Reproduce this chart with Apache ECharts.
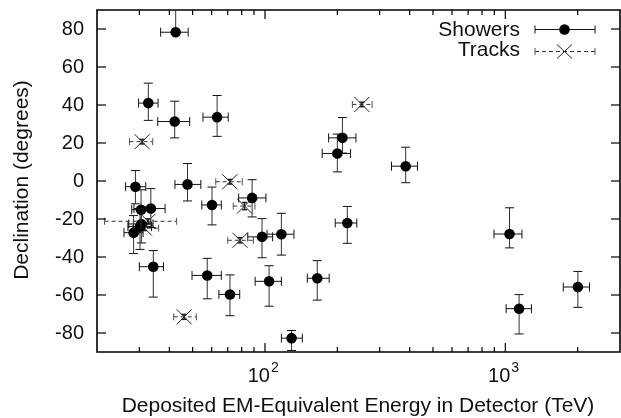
<!DOCTYPE html>
<html>
<head>
<meta charset="utf-8">
<script src="https://cdn.jsdelivr.net/npm/echarts@6/dist/echarts.min.js"></script>
<style>
html,body{margin:0;padding:0;background:#fff;}
#chart{width:621px;height:418px;}
</style>
</head>
<body>
<div id="chart"></div>
<script>
// ---- axis ranges & ticks ----
const xMin = 20, xMax = 3000;
const yMin = -90, yMax = 90;
const xMajorTicks = [100, 1000];
const xMajorLabels = ['10', '10'];
const xMajorExp = ['2', '3'];
const xMinorTicks = [30, 40, 50, 60, 70, 80, 90, 200, 300, 400, 500, 600, 700, 800, 900, 2000];
const yTicks = [-80, -60, -40, -20, 0, 20, 40, 60, 80];

// ---- Showers: deposited energy (TeV) with errors, declination (deg) with errors ----
const showerE      = [47.6, 117, 165, 28.4, 34.3, 63.2, 97.2, 88.4, 104, 1041, 57.5, 30.6, 200, 71.5, 1141, 30.2, 220, 30.5, 33.5, 210, 60.2, 32.7, 129, 42.5, 385, 42.1, 2004, 28.9];
const showerEPlus  = [6.5, 15, 20, 2.7, 3.5, 7.1, 10.4, 12.5, 13, 132, 8.3, 3.6, 27, 7.0, 143, 3.5, 21, 3.2, 4.9, 29, 5.6, 3.2, 14, 5.4, 46, 6.5, 236, 3.0];
const showerEMinus = [5.4, 15, 15, 2.5, 4.3, 8.0, 12.4, 10.7, 13, 144, 7.8, 3.5, 27, 7.2, 133, 3.3, 24, 2.6, 5.0, 26, 5.6, 2.9, 12, 5.7, 49, 6.3, 262, 2.6];
const showerDec    = [-1.8, -28.0, -51.2, -27.2, -45.1, 33.6, -29.4, -8.9, -52.8, -27.9, -49.7, -22.6, 14.5, -59.7, -67.2, -24.0, -22.1, -15.1, -14.5, 22.7, -12.6, 41.0, -82.7, 78.3, 7.8, 31.3, -55.8, -3.0];
const showerDecPlus  = [11, 11, 9.3, 9, 8.5, 11.4, 9.6, 9.6, 8.2, 13.8, 9, 9, 10.2, 10.3, 7.4, 9, 8.7, 10.5, 10.5, 10.7, 9.4, 10.5, 4, 12, 10, 10.7, 8.2, 8.5];
const showerDecMinus = [8.7, 11, 11.5, 11, 16, 10.1, 11, 10, 13.1, 7.3, 12.3, 10, 9.7, 11.2, 13.3, 12, 10.7, 10, 10, 8, 10.5, 9.1, 6.5, 0, 8.7, 8.6, 10.7, 9];

// ---- Tracks ----
const trackE      = [78.7, 71.4, 32.6, 253, 31.5, 82.2, 46.1, 30.8];
const trackEPlus  = [10.8, 9.0, 10.3, 26, 4.6, 8.6, 5.7, 3.3];
const trackEMinus = [8.7, 9.0, 11.1, 22, 3.3, 8.4, 4.4, 3.5];
const trackDec    = [-31.2, -0.4, -21.2, 40.3, -24.8, -13.2, -71.5, 20.7];
const trackDecErr = [1.4, 1.2, 1.3, 1.2, 1.3, 1.9, 1.3, 1.2];

const legendNames = ['Showers', 'Tracks'];
const xTitle = 'Deposited EM-Equivalent Energy in Detector (TeV)';
const yTitle = 'Declination (degrees)';

const FONT = '"Liberation Sans", Arial, Helvetica, sans-serif';
const INK = '#111';

const showerData = showerE.map((e, i) => [e, showerDec[i], showerEPlus[i], showerEMinus[i], showerDecPlus[i], showerDecMinus[i]]);
const trackData = trackE.map((e, i) => [e, trackDec[i], trackEPlus[i], trackEMinus[i], trackDecErr[i], trackDecErr[i]]);

function line(x1, y1, x2, y2, style) {
  return { type: 'line', shape: { x1, y1, x2, y2 }, style: Object.assign({ stroke: INK, lineWidth: 1 }, style || {}) };
}

function renderShower(params, api) {
  const x = api.value(0), y = api.value(1);
  const ep = api.value(2), em = api.value(3), dp = api.value(4), dm = api.value(5);
  const c = api.coord([x, y]);
  const l = api.coord([x - em, y]), r = api.coord([x + ep, y]);
  const t = api.coord([x, y + dp]), b = api.coord([x, y - dm]);
  const cap = 4.5;
  return {
    type: 'group',
    children: [
      line(l[0], c[1], r[0], c[1]),
      line(l[0], c[1] - cap, l[0], c[1] + cap),
      line(r[0], c[1] - cap, r[0], c[1] + cap),
      line(c[0], t[1], c[0], b[1], { stroke: '#333' }),
      line(c[0] - cap, t[1], c[0] + cap, t[1]),
      line(c[0] - cap, b[1], c[0] + cap, b[1]),
      { type: 'circle', shape: { cx: c[0], cy: c[1], r: 5.3 }, style: { fill: '#000' } }
    ]
  };
}

function renderTrack(params, api) {
  const x = api.value(0), y = api.value(1);
  const ep = api.value(2), em = api.value(3), dp = api.value(4), dm = api.value(5);
  const c = api.coord([x, y]);
  const l = api.coord([x - em, y]), r = api.coord([x + ep, y]);
  const t = api.coord([x, y + dp]), b = api.coord([x, y - dm]);
  const cap = 3.5, s = 7.5;
  const dash = { lineDash: [4, 3], stroke: '#333' };
  return {
    type: 'group',
    children: [
      line(l[0], c[1], r[0], c[1], dash),
      line(l[0], c[1] - cap, l[0], c[1] + cap, { stroke: '#555' }),
      line(r[0], c[1] - cap, r[0], c[1] + cap, { stroke: '#555' }),
      line(c[0], t[1], c[0], b[1], { stroke: '#222', lineWidth: 1.5 }),
      line(c[0] - 2.5, t[1], c[0] + 2.5, t[1], { stroke: '#222', lineWidth: 1.5 }),
      line(c[0] - 2.5, b[1], c[0] + 2.5, b[1], { stroke: '#222', lineWidth: 1.5 }),
      line(c[0] - s, c[1] - s, c[0] + s, c[1] + s, { stroke: '#222' }),
      line(c[0] - s, c[1] + s, c[0] + s, c[1] - s, { stroke: '#222' })
    ]
  };
}

function renderXTick(len, withLabel) {
  return function (params, api) {
    const v = api.value(0);
    const b = api.coord([v, yMin]), t = api.coord([v, yMax]);
    const ch = [
      line(b[0], b[1], b[0], b[1] - len, { stroke: '#000', lineWidth: 1.2 }),
      line(t[0], t[1], t[0], t[1] + len, { stroke: '#000', lineWidth: 1.2 })
    ];
    if (withLabel) {
      const i = params.dataIndex;
      ch.push({ type: 'text', x: b[0] + 5, y: b[1] + 24, style: { text: xMajorLabels[i], font: '20px ' + FONT, fill: INK, align: 'right', verticalAlign: 'middle' } });
      ch.push({ type: 'text', x: b[0] + 6, y: b[1] + 16, style: { text: xMajorExp[i], font: '14px ' + FONT, fill: INK, align: 'left', verticalAlign: 'middle' } });
    }
    return { type: 'group', children: ch };
  };
}

function renderYTick(params, api) {
  const v = api.value(1);
  const l = api.coord([xMin, v]), r = api.coord([xMax, v]);
  return {
    type: 'group',
    children: [
      line(l[0], l[1], l[0] + 9, l[1], { stroke: '#000', lineWidth: 1.2 }),
      line(r[0], r[1], r[0] - 9, r[1], { stroke: '#000', lineWidth: 1.2 }),
      { type: 'text', x: l[0] - 13, y: l[1], style: { text: String(v), font: '20px ' + FONT, fill: INK, align: 'right', verticalAlign: 'middle' } }
    ]
  };
}

const chart = echarts.init(document.getElementById('chart'), null, { renderer: 'canvas' });
chart.setOption({
  animation: false,
  backgroundColor: '#fff',
  grid: { left: 97, right: 1, top: 10, bottom: 66, show: true, borderColor: '#000', borderWidth: 1.6, backgroundColor: 'transparent' },
  xAxis: { type: 'log', logBase: 10, min: xMin, max: xMax, axisLine: { show: false }, axisTick: { show: false }, axisLabel: { show: false }, splitLine: { show: false }, minorTick: { show: false } },
  yAxis: { type: 'value', min: yMin, max: yMax, axisLine: { show: false }, axisTick: { show: false }, axisLabel: { show: false }, splitLine: { show: false } },
  series: [
    { type: 'custom', name: 'xmajor', renderItem: renderXTick(9, true), data: xMajorTicks.map(v => [v, yMin]), encode: { x: 0, y: 1 }, silent: true, z: 5 },
    { type: 'custom', name: 'xminor', renderItem: renderXTick(5, false), data: xMinorTicks.map(v => [v, yMin]), encode: { x: 0, y: 1 }, silent: true, z: 5 },
    { type: 'custom', name: 'yticks', renderItem: renderYTick, data: yTicks.map(v => [xMin, v]), encode: { x: 0, y: 1 }, silent: true, z: 5 },
    { type: 'custom', name: legendNames[1], renderItem: renderTrack, data: trackData, encode: { x: 0, y: 1 }, clip: true, z: 3 },
    { type: 'custom', name: legendNames[0], renderItem: renderShower, data: showerData, encode: { x: 0, y: 1 }, clip: true, z: 4 }
  ],
  graphic: [
    { type: 'text', x: 358, y: 406, style: { text: xTitle, font: '21px ' + FONT, fill: INK, align: 'center', verticalAlign: 'middle' } },
    { type: 'text', x: 22, y: 180, rotation: Math.PI / 2, style: { text: yTitle, font: '21px ' + FONT, fill: INK, align: 'center', verticalAlign: 'middle' } },
    // legend
    { type: 'text', x: 520, y: 30, style: { text: legendNames[0], font: '21px ' + FONT, fill: INK, align: 'right', verticalAlign: 'middle' } },
    { type: 'text', x: 520, y: 50, style: { text: legendNames[1], font: '21px ' + FONT, fill: INK, align: 'right', verticalAlign: 'middle' } },
    { type: 'line', shape: { x1: 535, y1: 29.5, x2: 595, y2: 29.5 }, style: { stroke: INK, lineWidth: 1 } },
    { type: 'line', shape: { x1: 535, y1: 25.5, x2: 535, y2: 33.5 }, style: { stroke: INK, lineWidth: 1 } },
    { type: 'line', shape: { x1: 595, y1: 25.5, x2: 595, y2: 33.5 }, style: { stroke: INK, lineWidth: 1 } },
    { type: 'circle', shape: { cx: 564.5, cy: 29.5, r: 5.3 }, style: { fill: '#000' } },
    { type: 'line', shape: { x1: 535, y1: 51.5, x2: 595, y2: 51.5 }, style: { stroke: '#333', lineWidth: 1, lineDash: [4, 3] } },
    { type: 'line', shape: { x1: 535, y1: 48, x2: 535, y2: 55 }, style: { stroke: '#555', lineWidth: 1 } },
    { type: 'line', shape: { x1: 595, y1: 48, x2: 595, y2: 55 }, style: { stroke: '#555', lineWidth: 1 } },
    { type: 'line', shape: { x1: 557, y1: 44.5, x2: 572, y2: 58.5 }, style: { stroke: '#222', lineWidth: 1 } },
    { type: 'line', shape: { x1: 557, y1: 58.5, x2: 572, y2: 44.5 }, style: { stroke: '#222', lineWidth: 1 } }
  ]
});
</script>
</body>
</html>
